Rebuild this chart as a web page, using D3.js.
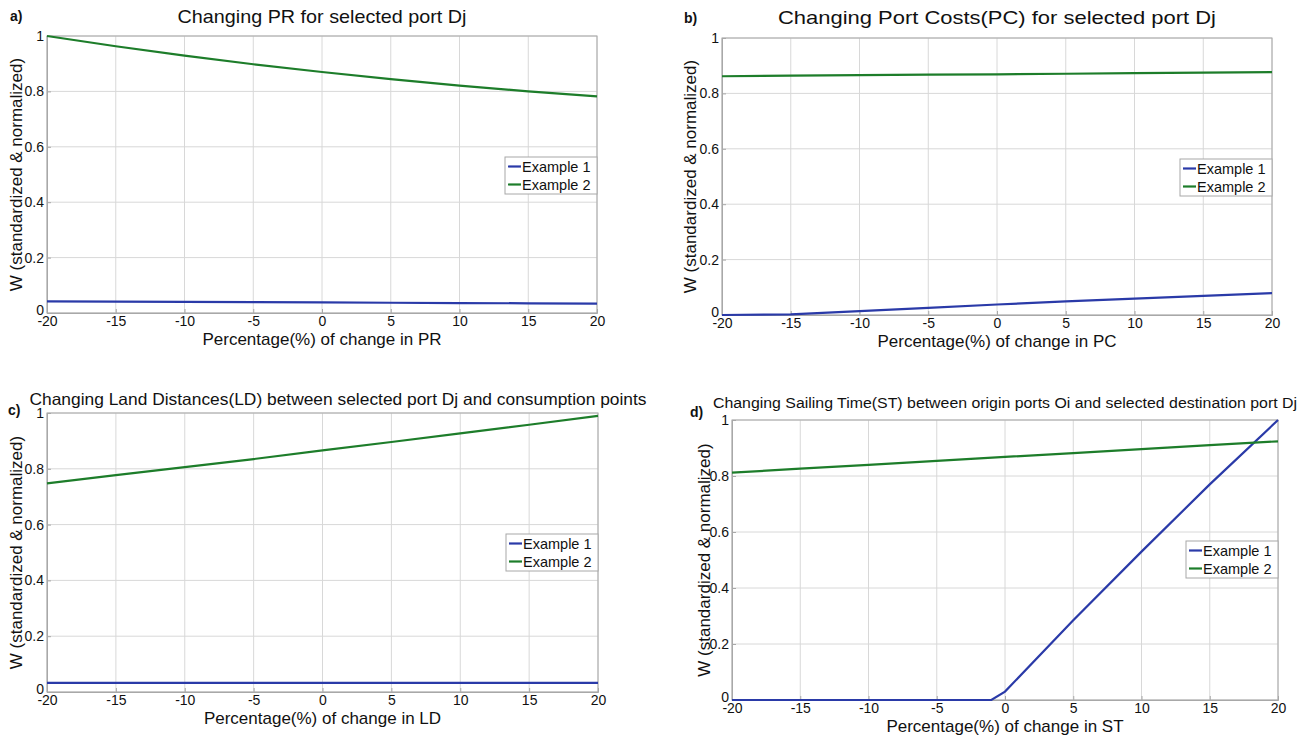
<!DOCTYPE html>
<html><head><meta charset="utf-8">
<script src="https://cdn.jsdelivr.net/npm/d3@7/dist/d3.min.js"></script>
<style>body{margin:0;background:#fff}svg{display:block;font-family:"Liberation Sans",Arial,sans-serif}</style>
</head><body>
<svg id="c" width="1306" height="740"></svg>
<script>
// ---- data ----
const xTicks = [-20, -15, -10, -5, 0, 5, 10, 15, 20];
const xTickLabels = ["-20", "-15", "-10", "-5", "0", "5", "10", "15", "20"];
const yTicks = [0, 0.2, 0.4, 0.6, 0.8, 1];
const yTickLabels = ["0", "0.2", "0.4", "0.6", "0.8", "1"];
const pctChange = [-20, -15, -10, -5, 0, 5, 10, 15, 20];
const seriesNames = ["Example 1", "Example 2"];

const prEx1 = [0.042, 0.041, 0.040, 0.039, 0.038, 0.037, 0.036, 0.035, 0.034];
const prEx2 = [1.000, 0.963, 0.929, 0.898, 0.870, 0.844, 0.821, 0.800, 0.782];

const pcEx1 = [0.000, 0.002, 0.014, 0.026, 0.038, 0.049, 0.059, 0.069, 0.079];
const pcEx2 = [0.862, 0.864, 0.866, 0.868, 0.869, 0.871, 0.873, 0.875, 0.877];

const ldEx1 = [0.033, 0.033, 0.033, 0.033, 0.033, 0.033, 0.033, 0.033, 0.033];
const ldEx2 = [0.748, 0.777, 0.806, 0.835, 0.866, 0.896, 0.927, 0.958, 0.990];

const stX1 = [-20, -15, -10, -5, -1, 0, 5, 10, 15, 20];
const stEx1 = [0, 0, 0, 0, 0, 0.03, 0.285, 0.53, 0.77, 1.0];
const stEx2 = [0.812, 0.826, 0.840, 0.854, 0.868, 0.882, 0.896, 0.910, 0.924];

const titles = [
  "Changing PR for selected port Dj",
  "Changing Port Costs(PC) for selected port Dj",
  "Changing Land Distances(LD) between selected port Dj and consumption points",
  "Changing Sailing Time(ST) between origin ports Oi and selected destination port Dj"
];
const xLabels = [
  "Percentage(%) of change in PR",
  "Percentage(%) of change in PC",
  "Percentage(%) of change in LD",
  "Percentage(%) of change in ST"
];
const panelTags = ["a)", "b)", "c)", "d)"];
const yLabel = "W (standardized & normalized)";

// ---- layout ----
const colors = ["#2a3aa8", "#1d7d2a"];
const panels = [
  {l:47, r:597, t:36, b:313, tag:[10,16], titleX:322, titleY:16, titleSize:19, titleW:289, yLabX:16, xLabY:339,
   s:[{x:pctChange, y:prEx1},{x:pctChange, y:prEx2}]},
  {l:722, r:1272, t:38, b:315, tag:[684,18], titleX:997, titleY:18, titleSize:18.5, titleW:438, yLabX:690, xLabY:341,
   s:[{x:pctChange, y:pcEx1},{x:pctChange, y:pcEx2}]},
  {l:47, r:598, t:413, b:692, tag:[8,410], titleX:338, titleY:399, titleSize:16.5, titleW:617, yLabX:16, xLabY:718,
   s:[{x:pctChange, y:ldEx1},{x:pctChange, y:ldEx2}]},
  {l:732, r:1278, t:420, b:700, tag:[690,412], titleX:1005, titleY:403, titleSize:15.5, titleW:584, yLabX:704, xLabY:726,
   s:[{x:stX1, y:stEx1},{x:pctChange, y:stEx2}]}
];

const svg = d3.select("#c");

panels.forEach((p, i) => {
  const x = d3.scaleLinear().domain([-20, 20]).range([p.l, p.r]);
  const y = d3.scaleLinear().domain([0, 1]).range([p.b, p.t]);
  const g = svg.append("g");

  // grid
  g.selectAll(".vg").data(xTicks).join("line")
    .attr("x1", d => x(d)).attr("x2", d => x(d)).attr("y1", p.t).attr("y2", p.b)
    .attr("stroke", "#d8d8d8").attr("stroke-width", 1);
  g.selectAll(".hg").data(yTicks).join("line")
    .attr("y1", d => y(d)).attr("y2", d => y(d)).attr("x1", p.l).attr("x2", p.r)
    .attr("stroke", "#d8d8d8").attr("stroke-width", 1);

  // axes
  const xa = g.append("g").attr("transform", `translate(0,${p.b})`)
    .call(d3.axisBottom(x).tickValues(xTicks).tickSize(-4).tickPadding(3).tickFormat((d, k) => xTickLabels[k]));
  const ya = g.append("g").attr("transform", `translate(${p.l},0)`)
    .call(d3.axisLeft(y).tickValues(yTicks).tickSize(-4).tickPadding(3).tickFormat((d, k) => yTickLabels[k]));
  [xa, ya].forEach(a => {
    a.select(".domain").attr("stroke", "#a8a8a8");
    a.selectAll(".tick line").attr("stroke", "#a8a8a8");
    a.selectAll(".tick text").attr("fill", "#111").attr("font-size", 14)
      .attr("font-family", "Liberation Sans, Arial, sans-serif");
  });
  // lift the "0" y label a little, as in the reference
  ya.selectAll(".tick text").filter(d => d === 0).attr("dy", "0.1em");
  // frame
  g.append("rect").attr("x", p.l).attr("y", p.t).attr("width", p.r - p.l).attr("height", p.b - p.t)
    .attr("fill", "none").attr("stroke", "#a8a8a8");

  // lines
  const line = d3.line().x(d => x(d[0])).y(d => y(d[1]));
  p.s.forEach((s, k) => {
    g.append("path").datum(s.x.map((v, j) => [v, s.y[j]]))
      .attr("d", line).attr("fill", "none").attr("stroke", colors[k]).attr("stroke-width", 2.2);
  });

  // legend
  const lw = 92, lh = 37, lx = p.r - lw, ly = p.t + 121;
  const lg = g.append("g").attr("transform", `translate(${lx},${ly})`);
  lg.append("rect").attr("width", lw).attr("height", lh).attr("fill", "#fff").attr("stroke", "#a8a8a8");
  seriesNames.forEach((n, k) => {
    const yy = 9.5 + k * 18;
    lg.append("line").attr("x1", 3).attr("x2", 16).attr("y1", yy).attr("y2", yy)
      .attr("stroke", colors[k]).attr("stroke-width", 2.2);
    lg.append("text").attr("x", 17).attr("y", yy).attr("dy", "0.35em")
      .attr("font-size", 14.5).attr("fill", "#111").text(n);
  });

  // titles and labels
  g.append("text").attr("x", p.titleX).attr("y", p.titleY).attr("dy", "0.35em")
    .attr("text-anchor", "middle").attr("font-size", p.titleSize).attr("fill", "#111")
    .attr("textLength", p.titleW).attr("lengthAdjust", "spacingAndGlyphs").text(titles[i]);
  g.append("text").attr("x", p.tag[0]).attr("y", p.tag[1]).attr("dy", "0.35em")
    .attr("font-size", 14).attr("font-weight", "bold").attr("fill", "#111").text(panelTags[i]);
  g.append("text").attr("x", (p.l + p.r) / 2).attr("y", p.xLabY).attr("dy", "0.35em")
    .attr("text-anchor", "middle").attr("font-size", 17).attr("fill", "#111").text(xLabels[i]);
  g.append("text").attr("transform", `translate(${p.yLabX},${(p.t + p.b) / 2}) rotate(-90)`)
    .attr("dy", "0.35em").attr("text-anchor", "middle").attr("font-size", 17).attr("fill", "#111").text(yLabel);
});
</script>
</body></html>
